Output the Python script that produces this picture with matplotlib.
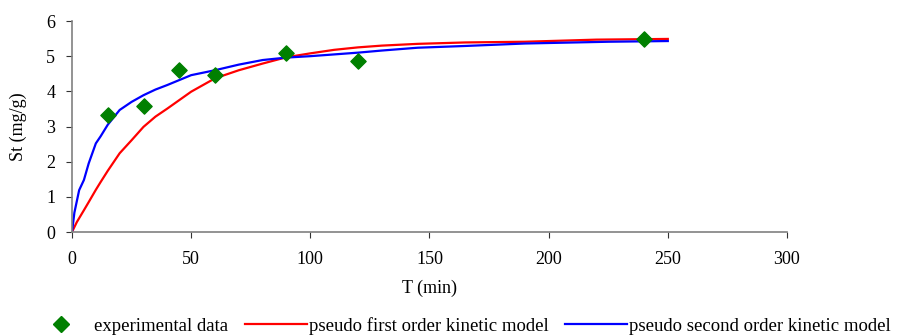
import matplotlib.pyplot as plt
from matplotlib.lines import Line2D

plt.rcParams["font.family"] = ["Liberation Serif", "DejaVu Serif"]

# experimental points
t_exp = [15, 30, 45, 60, 90, 120, 240]
st_exp = [3.33, 3.57, 4.6, 4.47, 5.1, 4.87, 5.5]

# pseudo first order model
t_first = [0, 2, 5, 7, 10, 12, 15, 20, 25, 30, 35, 40, 45, 50, 55, 60, 70, 80, 90,
           100, 110, 120, 130, 145, 165, 190, 220, 250]
st_first = [0, 0.28, 0.62, 0.85, 1.2, 1.42, 1.74, 2.24, 2.61, 2.99, 3.28, 3.51, 3.75, 3.99,
            4.18, 4.37, 4.6, 4.79, 4.97, 5.08, 5.18, 5.25, 5.3, 5.35, 5.39, 5.41, 5.47, 5.49]

# pseudo second order model
t_second = [0, 1, 3, 5, 7, 10, 12, 15, 20, 25, 30, 35, 40, 45, 50, 60, 70, 80, 90,
            100, 110, 120, 130, 145, 165, 190, 225, 250]
st_second = [0, 0.55, 1.19, 1.48, 1.95, 2.52, 2.72, 3.05, 3.47, 3.7, 3.89, 4.05, 4.18, 4.32, 4.46,
             4.6, 4.76, 4.89, 4.96, 5.0, 5.05, 5.1, 5.16, 5.24, 5.29, 5.36, 5.41, 5.43]

fig = plt.figure(figsize=(9.08, 3.36), dpi=100)
ax = fig.add_axes([0.0793, 0.3095, 0.7874, 0.628])

ax.plot(t_first, st_first, color="#ff0000", lw=1.6, label="pseudo first order kinetic model")
ax.plot(t_second, st_second, color="#0000ff", lw=1.6, label="pseudo second order kinetic model")
ax.scatter(t_exp, st_exp, marker="D", s=60, color="#008000", zorder=5, label="experimental data")

ax.set_xlim(0, 300)
ax.set_ylim(0, 6)
ax.set_xticks(range(0, 301, 50))
ax.set_yticks(range(0, 7))
for s in ["top", "right"]:
    ax.spines[s].set_visible(False)
for s in ["left", "bottom"]:
    ax.spines[s].set_color("#808080")
    ax.spines[s].set_linewidth(1.2)
ax.tick_params(direction="out", length=4, color="#333333", labelsize=13)
ax.tick_params(axis="x", pad=10)
ax.tick_params(axis="y", pad=8)
ax.set_xlabel("T (min)", fontsize=13, labelpad=8)
ax.set_ylabel("St (mg/g)", fontsize=13, labelpad=14)

handles = [
    Line2D([], [], marker="D", color="#008000", ls="none", markersize=8),
    Line2D([], [], color="#ff0000", lw=1.6),
    Line2D([], [], color="#0000ff", lw=1.6),
]
labels = ["experimental data", "pseudo first order kinetic model", "pseudo second order kinetic model"]
fig.legend(handles, labels, loc="center", bbox_to_anchor=(0.507, 0.03), ncol=3,
           frameon=False, fontsize=13.5, handlelength=3.3, handletextpad=0.1,
           columnspacing=0.9)

fig.savefig("out.png", dpi=100)
